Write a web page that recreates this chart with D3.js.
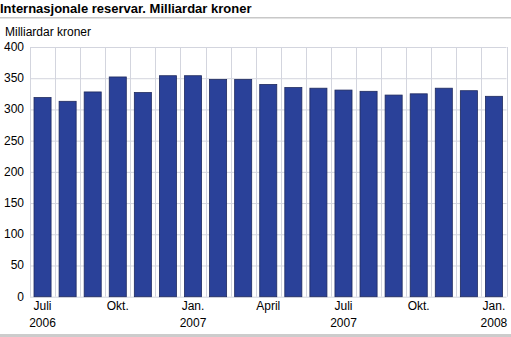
<!DOCTYPE html>
<html><head><meta charset="utf-8">
<script src="https://cdn.jsdelivr.net/npm/d3@7"></script>
<style>body{margin:0;background:#fff}svg{display:block;font-family:"Liberation Sans",Arial,sans-serif}</style>
</head><body>
<svg id="c" width="511" height="337"></svg>
<script>
const months = ["2006-07","2006-08","2006-09","2006-10","2006-11","2006-12","2007-01","2007-02","2007-03","2007-04","2007-05","2007-06","2007-07","2007-08","2007-09","2007-10","2007-11","2007-12","2008-01"];
const values = [319, 313, 328, 352, 327, 354, 354, 348, 348, 340, 335, 334, 331, 329, 323, 325, 334, 330, 321];
const tickLabels = {"2006-07":["Juli","2006"],"2006-10":["Okt."],"2007-01":["Jan.","2007"],"2007-04":["April"],"2007-07":["Juli","2007"],"2007-10":["Okt."],"2008-01":["Jan.","2008"]};
const yTicks = [0,50,100,150,200,250,300,350,400];

const svg = d3.select("#c");
const m = {l:30, r:4.5, t:47, b:40};
const W = 511, H = 337;
const x = d3.scaleBand().domain(months).range([m.l, W-m.r]).paddingInner(0.32).paddingOuter(0.16);
const y = d3.scaleLinear().domain([0,400]).range([296.7, m.t]);

svg.append("text").attr("x",0).attr("y",13).attr("font-size",13).attr("font-weight","bold").attr("fill","#000").text("Internasjonale reservar. Milliardar kroner");
svg.append("rect").attr("x",0).attr("y",17).attr("width",W).attr("height",1.5).attr("fill","#c8c8c8");
svg.append("text").attr("x",5).attr("y",36).attr("font-size",12).attr("fill","#000").text("Milliardar kroner");
svg.append("rect").attr("x",0).attr("y",334).attr("width",W).attr("height",3).attr("fill","#cccccc");

const step = x.step();
const g = svg.append("g");
g.selectAll("line.h").data(yTicks).join("line")
  .attr("x1",m.l).attr("x2",W-m.r).attr("y1",d=>y(d)+0.5).attr("y2",d=>y(d)+0.5)
  .attr("stroke","#d3d5de").attr("stroke-width",1);
const bounds = months.map(d=>x(d)-x.paddingOuter()*step).concat([W-m.r]);
g.selectAll("line.v").data(bounds).join("line")
  .attr("x1",d=>Math.round(d)+0.5).attr("x2",d=>Math.round(d)+0.5).attr("y1",y(400)).attr("y2",y(0))
  .attr("stroke","#d3d5de").attr("stroke-width",1);

g.selectAll("rect.bar").data(months).join("rect")
  .attr("x",d=>x(d)).attr("width",x.bandwidth())
  .attr("y",(d,i)=>y(values[i])).attr("height",(d,i)=>y(0)-y(values[i]))
  .attr("fill","#2a4199").attr("stroke","#1f2a5e").attr("stroke-width",0.8);

svg.selectAll("text.yt").data(yTicks).join("text")
  .attr("x",24).attr("y",d=>y(d)+4).attr("text-anchor","end").attr("font-size",12).attr("fill","#000").text(d=>d);

months.forEach(mo=>{
  const lab = tickLabels[mo]; if(!lab) return;
  const cx = x(mo)+x.bandwidth()/2;
  lab.forEach((t,k)=>{
    svg.append("text").attr("x",cx).attr("y",310+k*16.5).attr("text-anchor","middle").attr("font-size",12).attr("fill","#000").text(t);
  });
});
</script>
</body></html>
